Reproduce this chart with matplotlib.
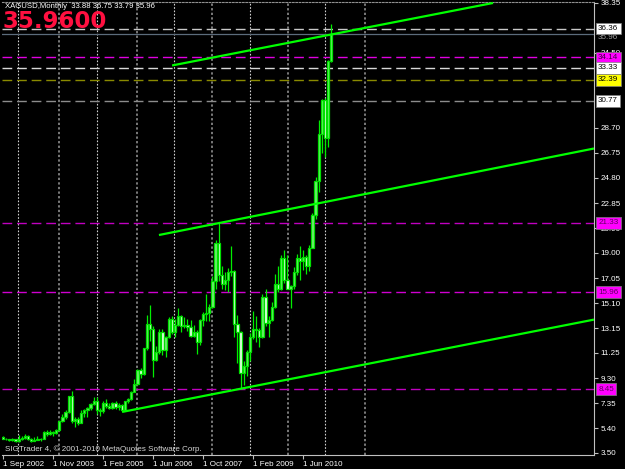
import matplotlib.pyplot as plt

plt.rcParams["font.family"] = ["Liberation Sans", "DejaVu Sans"]

# monthly XAGUSD candles, Jun 2002 .. Mar 2011
opens = [4.72, 4.62, 4.55, 4.50, 4.55, 4.42, 4.58, 4.67, 4.85, 4.60, 4.45, 4.52,
         4.56, 4.57, 5.10, 5.00, 5.15, 5.02, 5.25, 5.96, 6.30, 6.68, 7.90, 6.00,
         6.10, 5.85, 6.60, 6.80, 7.00, 7.30, 7.55, 6.82, 6.75, 7.40, 7.15, 6.95,
         7.35, 7.05, 7.20, 6.85, 7.52, 7.70, 8.25, 8.85, 9.90, 9.65, 11.60, 13.50,
         13.10, 10.70, 11.30, 12.90, 11.50, 12.45, 13.90, 12.90, 13.40, 14.10, 13.35, 13.40,
         13.25, 12.55, 12.90, 12.10, 13.80, 14.30, 14.35, 14.80, 16.80, 19.80, 17.30, 16.60,
         16.90, 17.50, 17.60, 13.50, 12.90, 9.70, 10.20, 11.30, 12.50, 13.10, 13.05, 12.50,
         15.60, 13.60, 13.80, 14.80, 16.60, 16.20, 18.60, 16.90, 16.20, 16.40, 17.50, 18.60,
         18.40, 18.70, 18.00, 19.40, 21.90, 24.60, 28.20, 30.80, 27.90, 33.88]
highs = [4.85, 4.70, 4.62, 4.65, 4.60, 4.88, 4.80, 4.95, 4.88, 4.65, 4.72, 4.85,
         4.65, 5.20, 5.25, 5.28, 5.20, 5.35, 5.98, 6.50, 6.83, 7.92, 8.29, 6.25,
         6.30, 6.80, 6.90, 7.10, 7.40, 7.80, 7.80, 6.95, 7.50, 7.65, 7.40, 7.45,
         7.50, 7.35, 7.30, 7.55, 7.75, 8.30, 9.25, 10.00, 10.05, 11.65, 14.20, 14.94,
         13.30, 11.80, 13.10, 13.10, 12.55, 14.00, 14.10, 13.85, 14.70, 14.20, 14.00, 13.90,
         13.80, 13.45, 13.00, 13.85, 14.40, 15.80, 15.00, 17.20, 20.00, 21.35, 18.00, 17.50,
         17.80, 19.50, 17.70, 14.20, 12.95, 10.60, 11.50, 12.80, 14.50, 14.10, 13.20, 15.80,
         16.20, 14.10, 15.20, 17.40, 18.00, 18.85, 19.20, 18.85, 16.50, 17.90, 18.90, 19.50,
         19.20, 18.80, 19.60, 22.10, 24.90, 29.30, 30.90, 31.00, 33.90, 36.75]
lows = [4.55, 4.50, 4.40, 4.45, 4.35, 4.38, 4.52, 4.62, 4.52, 4.35, 4.40, 4.50,
        4.44, 4.55, 4.85, 4.92, 4.78, 4.94, 5.20, 5.88, 6.15, 6.60, 5.85, 5.50,
        5.70, 5.80, 6.30, 6.30, 6.85, 7.20, 6.52, 6.40, 6.60, 6.95, 6.90, 6.90,
        6.90, 6.85, 6.75, 6.80, 7.35, 7.60, 8.20, 8.80, 9.30, 9.55, 11.50, 12.20,
        9.40, 10.60, 11.20, 11.10, 10.95, 12.40, 12.70, 12.50, 13.30, 12.90, 13.20, 12.95,
        12.45, 12.50, 11.20, 11.90, 13.30, 13.70, 13.70, 14.75, 16.20, 16.80, 16.20, 16.10,
        16.00, 17.20, 12.50, 10.45, 8.45, 8.80, 9.50, 10.60, 12.30, 12.10, 11.70, 12.40,
        13.30, 12.50, 13.70, 14.70, 16.00, 16.10, 16.70, 16.20, 14.70, 16.20, 17.30, 16.90,
        17.70, 17.40, 17.60, 19.40, 21.60, 23.70, 26.70, 26.40, 27.20, 33.79]
closes = [4.62, 4.55, 4.50, 4.55, 4.42, 4.58, 4.67, 4.85, 4.60, 4.45, 4.52, 4.56,
          4.57, 5.10, 5.00, 5.15, 5.02, 5.25, 5.96, 6.30, 6.68, 7.90, 6.00, 6.10,
          5.85, 6.60, 6.80, 7.00, 7.30, 7.55, 6.82, 6.75, 7.40, 7.15, 6.95, 7.35,
          7.05, 7.20, 6.85, 7.52, 7.70, 8.25, 8.85, 9.90, 9.65, 11.60, 13.50, 13.10,
          10.70, 11.30, 12.90, 11.50, 12.45, 13.90, 12.90, 13.40, 14.10, 13.35, 13.40, 13.25,
          12.55, 12.90, 12.10, 13.80, 14.30, 14.35, 14.80, 16.80, 19.80, 17.30, 16.60, 16.90,
          17.50, 17.60, 13.50, 12.90, 9.70, 10.20, 11.30, 12.50, 13.10, 13.05, 12.50, 15.60,
          13.60, 13.80, 14.80, 16.60, 16.20, 18.60, 16.90, 16.20, 16.40, 17.50, 18.60, 18.40,
          18.70, 18.00, 19.40, 21.90, 24.60, 28.20, 30.80, 27.90, 33.85, 35.96]

time_labels = ["1 Sep 2002", "1 Nov 2003", "1 Feb 2005", "1 Jun 2006",
               "1 Oct 2007", "1 Feb 2009", "1 Jun 2010"]
time_label_bars = [0, 16, 32, 48, 64, 80, 96]

price_ticks = [3.50, 5.40, 7.35, 9.30, 11.25, 13.15, 15.10, 17.05, 19.00,
               20.90, 22.85, 24.80, 26.75, 28.70, 34.50, 38.35]

# horizontal levels drawn on the chart
levels = [36.36, 34.14, 33.33, 32.39, 30.77, 21.33, 15.96, 8.45]
level_colors = ["#c8c8c8", "#e000e0", "#d8d8d8", "#8a8a00", "#8c8c8c",
                "#c000c0", "#d000d0", "#c000c0"]
level_box = ["white", "#ff00ff", "white", "#ffff00", "white",
             "#ff00ff", "#ff00ff", "#ff00ff"]
level_text = ["black", "#400040", "black", "black", "black",
              "#600060", "#600060", "#600060"]
bid = 35.96

# channel trend lines (bar index, price)
trend_x = [[54.1, 156.8], [49.9, 189.1], [38.1, 189.1]]
trend_y = [[33.51, 38.35], [20.38, 27.08], [6.68, 13.83]]

grid_x = [4.8, 17.9, 30.1, 42.9, 54.7, 66.9, 79.0, 91.2, 103.0, 115.8]

fig = plt.figure(figsize=(6.25, 4.69), dpi=100, facecolor="black")
ax = fig.add_axes([2 / 625, 14 / 469, 592 / 625, 453 / 469], facecolor="black")
ax.set_xlim(-0.32, 189.1)
ax.set_ylim(3.345, 38.425)

for i, gx in enumerate(grid_x):
    ax.axvline(gx, color="#d0d0d0" if i % 2 == 0 else "#9a9a9a",
               lw=0.8 if i % 2 == 0 else 1.1, linestyle=(0, (1.5, 1.5)), zorder=1)

for lv, c in zip(levels, level_colors):
    ax.axhline(lv, color=c, lw=1.0, dashes=(7, 3.5), zorder=2)
ax.axhline(bid, color="#5c6c7c", lw=0.9, zorder=2)

xs = list(range(len(closes)))
ax.vlines(xs, lows, highs, color="#00ee00", lw=0.9, zorder=3)
bottoms = [min(o, c) for o, c in zip(opens, closes)]
heights = [max(abs(c - o), 0.06) for o, c in zip(opens, closes)]
faces = ["#70f070" if c >= o else "#e8ffe8" for o, c in zip(opens, closes)]
ax.bar(xs, heights, bottom=bottoms, width=0.72, color=faces,
       edgecolor="#00e000", linewidth=0.9, zorder=4)

for tx, ty in zip(trend_x, trend_y):
    ax.plot(tx, ty, color="#00ff00", lw=1.6, zorder=5, solid_capstyle="butt")

# axes look
ax.spines["left"].set_visible(False)
ax.spines["right"].set_color("#c0c0c0")
ax.spines["bottom"].set_color("#c0c0c0")
ax.spines["top"].set_color("#909090")
ax.spines["top"].set_linestyle((0, (1.5, 1.5)))

ax.yaxis.tick_right()
ax.set_yticks(price_ticks)
ax.set_yticklabels([f"{p:.2f}" for p in price_ticks])
ax.tick_params(axis="y", colors="#c0c0c0", labelcolor="white", length=3,
               width=0.8, labelsize=5.8, pad=1.5)
ax.set_xticks(time_label_bars)
ax.set_xticklabels(time_labels)
for lab in ax.get_xticklabels():
    lab.set_horizontalalignment("left")
ax.tick_params(axis="x", colors="#c0c0c0", labelcolor="white", length=3,
               width=0.8, labelsize=5.8, pad=1.5)

ytr = ax.get_yaxis_transform()
ax.text(1.006, bid - 0.3, f"{bid:.2f}", transform=ytr, fontsize=5.8,
        color="#a0a0a0", va="center", ha="left", zorder=8)
for lv, bc, tc in zip(levels, level_box, level_text):
    ax.text(1.007, lv, f"{lv:.2f}", transform=ytr, fontsize=5.8, color=tc,
            va="center", ha="left", zorder=10,
            bbox=dict(boxstyle="square,pad=0.28", fc=bc, ec="#808080", lw=0.5))

fig.text(5 / 625, 1 - 7 / 469, "XAGUSD,Monthly  33.88 36.75 33.79 35.96",
         fontsize=5.6, color="white", va="center", ha="left")
fig.text(3 / 625, 1 - 21 / 469, "35.9600", fontsize=16.5, fontweight="bold",
         family="DejaVu Sans", color="#ff1040", va="center", ha="left")
fig.text(5 / 625, 1 - 449 / 469,
         "SIGTrader 4, \u00a9 2001-2010 MetaQuotes Software Corp.",
         fontsize=5.8, color="#d8d8d8", va="center", ha="left")

fig.savefig("out.png", dpi=100, facecolor="black")
